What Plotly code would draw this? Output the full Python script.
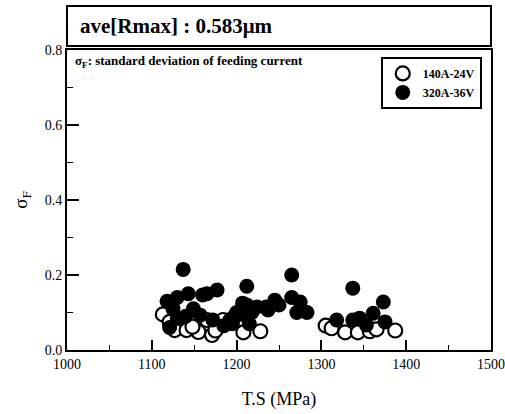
import plotly.graph_objects as go

# 140A-24V (open circles)
ts_140 = [1113, 1121, 1127, 1141, 1155, 1165, 1171, 1184, 1148, 1175, 1196, 1208, 1228,
          1305, 1312, 1328, 1343, 1357, 1365, 1387]
sf_140 = [0.095, 0.075, 0.053, 0.053, 0.048, 0.080, 0.040, 0.080, 0.062, 0.052, 0.085, 0.047, 0.050,
          0.065, 0.058, 0.047, 0.047, 0.050, 0.055, 0.052]

# 320A-36V (filled circles)
ts_320 = [1137, 1118, 1130, 1143, 1160, 1165, 1177, 1149, 1157, 1130, 1121, 1172, 1192, 1140, 1125,
          1212, 1207, 1207, 1212, 1224, 1235, 1237, 1200, 1218, 1245, 1265, 1265, 1275, 1283, 1271,
          1250, 1185, 1195, 1215,
          1337, 1373, 1361, 1318, 1337, 1375, 1353, 1345]
sf_320 = [0.215, 0.130, 0.140, 0.150, 0.147, 0.150, 0.160, 0.110, 0.093, 0.085, 0.060, 0.080, 0.080, 0.090, 0.110,
          0.170, 0.125, 0.095, 0.120, 0.115, 0.115, 0.107, 0.100, 0.100, 0.133, 0.200, 0.140, 0.128, 0.100, 0.100,
          0.120, 0.065, 0.070, 0.070,
          0.165, 0.128, 0.098, 0.080, 0.080, 0.075, 0.067, 0.085]

x_ticks = [1000, 1100, 1200, 1300, 1400, 1500]
y_ticks = [0.0, 0.2, 0.4, 0.6, 0.8]

FONT = "Liberation Serif"

fig = go.Figure()
fig.add_trace(go.Scatter(
    x=ts_140, y=sf_140, mode="markers", name="140A-24V",
    marker=dict(symbol="circle", size=14, color="white", line=dict(color="black", width=2.2)),
))
fig.add_trace(go.Scatter(
    x=ts_320, y=sf_320, mode="markers", name="320A-36V",
    marker=dict(symbol="circle", size=15, color="black", line=dict(color="black", width=0)),
))

fig.update_layout(
    width=505, height=414,
    margin=dict(l=67, r=14, t=50, b=64),
    paper_bgcolor="white", plot_bgcolor="white",
    font=dict(family=FONT, color="black", size=14),
    showlegend=True,
    legend=dict(
        x=0.74, y=0.977, xanchor="left", yanchor="top",
        bordercolor="black", borderwidth=2, bgcolor="white",
        font=dict(family=FONT, size=12, color="black", weight="bold"),
        tracegroupgap=0, itemsizing="trace",
    ),
    xaxis=dict(
        range=[1000, 1500], tickvals=x_ticks, ticktext=[str(v) for v in x_ticks],
        ticks="inside", ticklen=10, tickwidth=1.5, tickcolor="black",
        showline=True, linecolor="black", linewidth=2, mirror=True,
        showgrid=False, zeroline=False, automargin=False,
        minor=dict(dtick=50, ticks="inside", ticklen=5, tickcolor="black", tickwidth=1.2, showgrid=False),
        title=dict(text="T.S (MPa)", font=dict(size=18, family=FONT), standoff=22),
        tickfont=dict(size=14, family=FONT),
    ),
    yaxis=dict(
        range=[0, 0.8], tickvals=y_ticks, ticktext=["%.1f" % v for v in y_ticks],
        ticks="inside", ticklen=12, tickwidth=1.5, tickcolor="black",
        showline=True, linecolor="black", linewidth=2, mirror=True,
        showgrid=False, zeroline=False, automargin=False,
        minor=dict(dtick=0.1, ticks="inside", ticklen=6, tickcolor="black", tickwidth=1.2, showgrid=False),
        title=dict(text="σ<sub>F</sub>", font=dict(size=19, family=FONT), standoff=12),
        tickfont=dict(size=14, family=FONT),
    ),
)

# Title box above plot
fig.add_shape(type="rect", xref="paper", yref="paper", x0=0, x1=1, y0=1.013, y1=1.147,
              line=dict(color="black", width=2), fillcolor="white")
fig.add_annotation(xref="paper", yref="paper", x=0.025, y=1.08, xanchor="left", yanchor="middle",
                   text="<b>ave[Rmax] : 0.583μm</b>", showarrow=False,
                   font=dict(family=FONT, size=21, color="black"))
fig.add_annotation(xref="paper", yref="paper", x=0.014, y=0.962, xanchor="left", yanchor="middle",
                   text="<b>σ<sub>F</sub>: standard deviation of feeding current</b>", showarrow=False,
                   font=dict(family=FONT, size=13, color="black"))

fig.write_html("out.html")
